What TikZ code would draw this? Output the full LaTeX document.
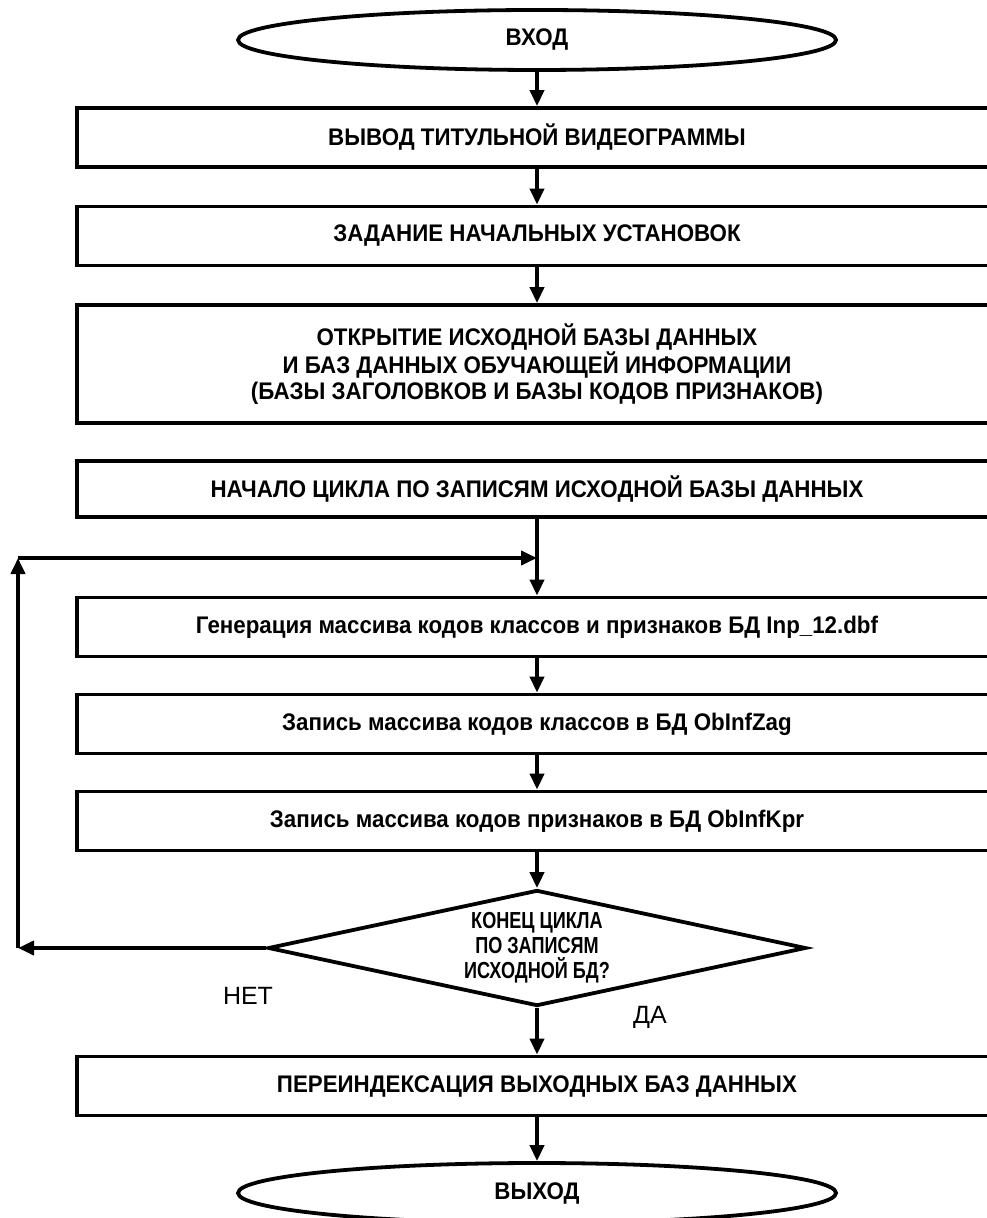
\documentclass[tikz,border=0pt]{standalone}
\usepackage{fontspec}
\setmainfont{Liberation Sans}
\newfontfamily\boxsans{Liberation Sans}[FakeStretch=0.93]
\newfontfamily\narrowsans{Liberation Sans}[FakeStretch=0.78]
\usetikzlibrary{arrows.meta,shapes.geometric}

\begin{document}
\begin{tikzpicture}[x=0.5pt,y=-0.5pt,>={Triangle[length=8pt,width=7pt]},line width=1.9pt,
  blk/.style={draw,minimum width=460pt,minimum height=29.5pt,align=center,inner sep=2pt,
    font=\boxsans\bfseries\fontsize{12}{13}\selectfont},
  term/.style={draw,ellipse,minimum width=299pt,minimum height=30pt,inner sep=0pt,
    font=\boxsans\bfseries\fontsize{12}{13}\selectfont},
  cond/.style={draw,diamond,aspect=4.64,minimum width=269pt,minimum height=58pt,inner sep=0pt,align=center,
    font=\narrowsans\bfseries\fontsize{11.6}{12.6}\selectfont},
  answ/.style={font=\fontsize{12.5}{14}\selectfont}]
\useasboundingbox (0,0) rectangle (986,1218);
\node[term] (in) at (537,40){ВХОД};
\node[blk] (b1) at (537,137.5){ВЫВОД ТИТУЛЬНОЙ ВИДЕОГРАММЫ};
\node[blk] (b2) at (537,236){ЗАДАНИЕ НАЧАЛЬНЫХ УСТАНОВОК};
\node[blk,minimum height=59pt] (b3) at (537,364){ОТКРЫТИЕ ИСХОДНОЙ БАЗЫ ДАННЫХ\\И БАЗ ДАННЫХ ОБУЧАЮЩЕЙ ИНФОРМАЦИИ\\(БАЗЫ ЗАГОЛОВКОВ И БАЗЫ КОДОВ ПРИЗНАКОВ)};
\node[blk,minimum height=28pt] (b4) at (537,489){НАЧАЛО ЦИКЛА ПО ЗАПИСЯМ ИСХОДНОЙ БАЗЫ ДАННЫХ};
\node[blk] (b5) at (537,627){Генерация массива кодов классов и признаков БД Inp\_12.dbf};
\node[blk] (b6) at (537,724){Запись массива кодов классов в БД ObInfZag};
\node[blk] (b7) at (537,821){Запись массива кодов признаков в БД ObInfKpr};
\node[cond] (dec) at (537,948){КОНЕЦ ЦИКЛА\\ПО ЗАПИСЯМ\\ИСХОДНОЙ БД?};
\node[blk] (b8) at (537,1086){ПЕРЕИНДЕКСАЦИЯ ВЫХОДНЫХ БАЗ ДАННЫХ};
\node[term] (out) at (537,1193){ВЫХОД};
\node[answ] (no) at (248,996){НЕТ};
\node[answ] (yes) at (650,1017){ДА};
% main flow
\draw[->] (in) -- (b1); \draw[->] (b1) -- (b2); \draw[->] (b2) -- (b3);
\draw[->] (b4) -- (b5); \draw[->] (b5) -- (b6); \draw[->] (b6) -- (b7);
\draw[->] (b7) -- (dec); \draw[->] (dec) -- (b8); \draw[->] (b8) -- (out);
% return of the loop
\coordinate (lc) at (18,948); \coordinate (lt) at (18,558); \coordinate (lp) at (537,558);
\draw[->] (dec.west) -- (lc); \draw[->] (lc) -- (lt); \draw[->] (lt) -- (lp);
\end{tikzpicture}
\end{document}
